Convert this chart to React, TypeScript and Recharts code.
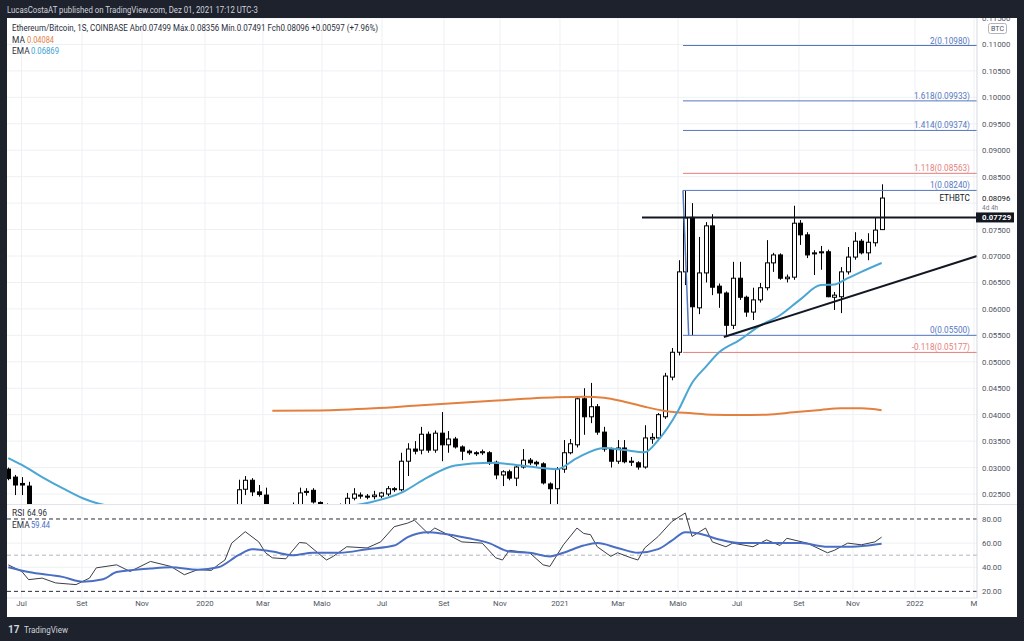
import React from 'react';
import {
  ComposedChart, Bar, Line, Scatter, XAxis, YAxis, CartesianGrid, ReferenceLine,
} from 'recharts';

// weekly ETH/BTC candles, week 0 = Jun 2019, week 129 = Nov 29 2021
const OPEN = [
  0.0297, 0.0282, 0.0270, 0.0265, 0.0218, 0.0205, 0.0195, 0.0185, 0.0184, 0.0180,
  0.0175, 0.0181, 0.0185, 0.0190, 0.0186, 0.0184, 0.0182, 0.0180, 0.0190, 0.0212,
  0.0215, 0.0210, 0.0202, 0.0198, 0.0195, 0.0190, 0.0188, 0.0183, 0.0185, 0.0182,
  0.0192, 0.0200, 0.0210, 0.0218, 0.0225, 0.0259, 0.0276, 0.0254, 0.0248, 0.0225,
  0.0210, 0.0180, 0.0195, 0.0228, 0.0253, 0.0257, 0.0234, 0.0228, 0.0225, 0.0228,
  0.0226, 0.0242, 0.0248, 0.0246, 0.0245, 0.0246, 0.0250, 0.0260, 0.0258, 0.0312,
  0.0335, 0.0333, 0.0363, 0.0333, 0.0365, 0.0343, 0.0354, 0.0339, 0.0331, 0.0328,
  0.0328, 0.0328, 0.0310, 0.0286, 0.0292, 0.0280, 0.0301, 0.0314, 0.0310, 0.0307,
  0.0269, 0.0260, 0.0297, 0.0328, 0.0343, 0.0430, 0.0396, 0.0415, 0.0367, 0.0335,
  0.0312, 0.0337, 0.0310, 0.0309, 0.0301, 0.0354, 0.0356, 0.0396, 0.0471, 0.0518,
  0.0670, 0.0773, 0.0602, 0.0668, 0.0757, 0.0643, 0.0630, 0.0569, 0.0658, 0.0622,
  0.0594, 0.0617, 0.0640, 0.0687, 0.0702, 0.0657, 0.0660, 0.0762, 0.0740, 0.0704,
  0.0706, 0.0708, 0.0622, 0.0623, 0.0670, 0.0698, 0.0728, 0.0706, 0.0725, 0.07499,
];
const HIGH = [
  0.0300, 0.0286, 0.0282, 0.0273, 0.0226, 0.0212, 0.0202, 0.0192, 0.0190, 0.0186,
  0.0185, 0.0190, 0.0195, 0.0198, 0.0192, 0.0190, 0.0188, 0.0194, 0.0215, 0.0225,
  0.0222, 0.0216, 0.0208, 0.0204, 0.0200, 0.0196, 0.0194, 0.0190, 0.0192, 0.0195,
  0.0205, 0.0215, 0.0222, 0.0228, 0.0277, 0.0284, 0.0280, 0.0267, 0.0262, 0.0230,
  0.0218, 0.0200, 0.0234, 0.0262, 0.0261, 0.0261, 0.0236, 0.0232, 0.0231, 0.0232,
  0.0252, 0.0261, 0.0253, 0.0250, 0.0256, 0.0254, 0.0265, 0.0263, 0.0328, 0.0346,
  0.0350, 0.0377, 0.0368, 0.0370, 0.0405, 0.0369, 0.0358, 0.0342, 0.0334, 0.0331,
  0.0334, 0.0331, 0.0313, 0.0295, 0.0296, 0.0303, 0.0335, 0.0318, 0.0313, 0.0310,
  0.0272, 0.0301, 0.0352, 0.0354, 0.0433, 0.0450, 0.0460, 0.0420, 0.0377, 0.0338,
  0.0352, 0.0352, 0.0320, 0.0312, 0.0380, 0.0365, 0.0403, 0.0479, 0.0526, 0.0692,
  0.0824, 0.0800, 0.0736, 0.0764, 0.0779, 0.0648, 0.0633, 0.0689, 0.0689, 0.0625,
  0.0640, 0.0649, 0.0730, 0.0706, 0.0705, 0.0665, 0.0795, 0.0768, 0.0745, 0.0711,
  0.0719, 0.0712, 0.0632, 0.0679, 0.0717, 0.0745, 0.0732, 0.0743, 0.0772, 0.08356,
];
const LOW = [
  0.0276, 0.0248, 0.0248, 0.0215, 0.0200, 0.0190, 0.0180, 0.0178, 0.0177, 0.0170,
  0.0172, 0.0178, 0.0180, 0.0183, 0.0180, 0.0178, 0.0176, 0.0178, 0.0188, 0.0205,
  0.0205, 0.0198, 0.0192, 0.0190, 0.0186, 0.0184, 0.0180, 0.0178, 0.0180, 0.0180,
  0.0188, 0.0196, 0.0205, 0.0212, 0.0220, 0.0248, 0.0246, 0.0245, 0.0215, 0.0200,
  0.0170, 0.0175, 0.0190, 0.0225, 0.0247, 0.0232, 0.0222, 0.0220, 0.0218, 0.0222,
  0.0222, 0.0238, 0.0241, 0.0240, 0.0240, 0.0242, 0.0246, 0.0254, 0.0255, 0.0284,
  0.0325, 0.0325, 0.0328, 0.0328, 0.0312, 0.0328, 0.0336, 0.0314, 0.0324, 0.0322,
  0.0324, 0.0305, 0.0278, 0.0265, 0.0276, 0.0265, 0.0298, 0.0305, 0.0302, 0.0268,
  0.0228, 0.0228, 0.0290, 0.0325, 0.0338, 0.0362, 0.0384, 0.0362, 0.0330, 0.0300,
  0.0307, 0.0308, 0.0303, 0.0296, 0.0298, 0.0345, 0.0350, 0.0392, 0.0465, 0.0512,
  0.0645, 0.0550, 0.0590, 0.0650, 0.0626, 0.0602, 0.0547, 0.0562, 0.0617, 0.0585,
  0.0579, 0.0612, 0.0635, 0.0670, 0.0655, 0.0650, 0.0655, 0.0721, 0.0696, 0.0664,
  0.0674, 0.0622, 0.0598, 0.0592, 0.0665, 0.0693, 0.0703, 0.0692, 0.0718, 0.07491,
];
const CLOSE = [
  0.0279, 0.0267, 0.0267, 0.0218, 0.0205, 0.0195, 0.0185, 0.0184, 0.0180, 0.0175,
  0.0181, 0.0185, 0.0190, 0.0186, 0.0184, 0.0182, 0.0180, 0.0190, 0.0212, 0.0215,
  0.0210, 0.0202, 0.0198, 0.0195, 0.0190, 0.0188, 0.0183, 0.0185, 0.0182, 0.0192,
  0.0200, 0.0210, 0.0218, 0.0225, 0.0258, 0.0276, 0.0254, 0.0249, 0.0225, 0.0210,
  0.0180, 0.0195, 0.0228, 0.0252, 0.0255, 0.0235, 0.0228, 0.0225, 0.0228, 0.0226,
  0.0242, 0.0250, 0.0246, 0.0244, 0.0248, 0.0252, 0.0260, 0.0259, 0.0312, 0.0335,
  0.0331, 0.0363, 0.0333, 0.0365, 0.0343, 0.0354, 0.0339, 0.0331, 0.0328, 0.0327,
  0.0330, 0.0309, 0.0286, 0.0292, 0.0280, 0.0301, 0.0314, 0.0309, 0.0307, 0.0271,
  0.0260, 0.0297, 0.0328, 0.0345, 0.0430, 0.0396, 0.0415, 0.0367, 0.0335, 0.0312,
  0.0337, 0.0311, 0.0312, 0.0301, 0.0356, 0.0357, 0.0400, 0.0473, 0.0518, 0.0670,
  0.0772, 0.0604, 0.0668, 0.0757, 0.0641, 0.0630, 0.0569, 0.0658, 0.0622, 0.0594,
  0.0617, 0.0640, 0.0687, 0.0702, 0.0658, 0.0660, 0.0762, 0.0740, 0.0702, 0.0706,
  0.0708, 0.0623, 0.0626, 0.0670, 0.0698, 0.0728, 0.0706, 0.0726, 0.0749, 0.08096,
];

const MA_WEEKS = [39, 46, 54, 61, 71, 81, 85, 88, 91, 94, 97, 101, 104, 108, 112, 116, 120, 123, 126, 129];
const MA_VALUES = [0.04075, 0.0408, 0.0412, 0.0418, 0.04258, 0.0433, 0.0434, 0.0432, 0.04245, 0.0415,
  0.0407, 0.04026, 0.0400, 0.03994, 0.0400, 0.04044, 0.0409, 0.0412, 0.0412, 0.04084];
const EMA_WEEKS = [0, 2, 5, 8, 11, 13, 18, 25, 32, 40, 47, 53, 58, 62, 66, 71, 75, 79, 81, 84, 88, 91, 94,
  96, 99, 101, 103, 105, 108, 111, 114, 117, 120, 122, 124, 126, 129];
const EMA_VALUES = [0.0318, 0.0305, 0.0282, 0.0261, 0.0242, 0.0233, 0.0222, 0.0212, 0.0208, 0.0212,
  0.0222, 0.0233, 0.0252, 0.0282, 0.0304, 0.0309, 0.0305, 0.0299, 0.0297, 0.0318, 0.0337, 0.0333,
  0.0329, 0.0352, 0.0409, 0.0460, 0.0490, 0.0518, 0.0541, 0.0568, 0.0588, 0.0618, 0.0645, 0.0646,
  0.0658, 0.0670, 0.06869];

// RSI pane
const RSI_WEEKS = [0, 2, 3, 5, 7, 10, 12, 13, 16, 18, 21, 24, 26, 28, 30, 31, 32, 33, 35, 37, 38, 39, 41,
  43, 44, 47, 48, 50, 53, 55, 57, 59, 60, 62, 63, 65, 67, 70, 72, 73, 74, 77, 79, 80, 82, 84, 85, 86,
  87, 89, 90, 92, 93, 94, 96, 98, 100, 101, 103, 104, 106, 107, 110, 112, 114, 115, 118, 121, 122,
  124, 126, 128, 129];
const RSI_VALUES = [42, 36.5, 29.7, 31, 27, 25.6, 31, 39.5, 42, 36.5, 44.8, 40.7, 33.8, 38, 37.4, 42, 46,
  60, 69.5, 61, 52, 47.8, 47, 60.5, 60, 46, 49, 57, 56, 61, 73.6, 76.6, 79, 68, 72.5, 66.8, 61, 60,
  47.8, 46, 54, 52, 42, 40.7, 58.6, 72.5, 68, 67, 57, 49, 52, 47.8, 46, 56, 65.5, 77.8, 85, 65.5,
  72.5, 61, 57, 60, 57, 62.7, 58, 64, 60, 52, 54, 60, 58.6, 61, 64.96];
const RSI_EMA_WEEKS = [0, 3, 8, 11, 14, 16, 21, 24, 28, 31, 34, 36, 39, 42, 45, 49, 53, 57, 59, 62, 64,
  68, 71, 74, 77, 80, 82, 85, 87, 90, 93, 96, 98, 100, 102, 105, 108, 112, 117, 121, 124, 127, 129];
const RSI_EMA_VALUES = [40, 36, 32, 28, 30, 36, 39, 40, 38, 40, 50, 55, 53, 50, 52, 52, 55, 58, 65, 69,
  68, 64, 60, 53, 52, 49, 52, 58, 60, 56, 52, 55, 62, 69, 68, 63, 60, 60, 60, 57, 57, 58, 59.44];

// time axis
const TICK_POS = [1.96, 10.89, 19.75, 29.05, 37.62, 46.34, 55.2, 64.36, 72.63, 81.49, 90.06, 98.92,
  107.64, 116.79, 124.77, 133.93, 142.64];
const TICK_LABELS = ['Jul', 'Set', 'Nov', '2020', 'Mar', 'Maio', 'Jul', 'Set', 'Nov', '2021', 'Mar',
  'Maio', 'Jul', 'Set', 'Nov', '2022', 'M'];

// price axis
const GRID_PRICES = [0.025, 0.03, 0.035, 0.04, 0.045, 0.05, 0.055, 0.06, 0.065, 0.07, 0.075, 0.08,
  0.085, 0.09, 0.095, 0.1, 0.105, 0.11, 0.115];
const LAST_PRICE = 0.08096;
const LEVEL_PRICE = 0.07729;
const AXIS_PRICES = [0.025, 0.03, 0.035, 0.04, 0.045, 0.05, 0.055, 0.06, 0.065, 0.07, 0.075,
  LEVEL_PRICE, LAST_PRICE, 0.085, 0.09, 0.095, 0.1, 0.105, 0.11, 0.115];
const RSI_TICKS = [20, 40, 60, 80];

// fib extension drawn from the May high to the May low
const FIB_RATIOS = ['2', '1.618', '1.414', '1.118', '1', '0', '-0.118'];
const FIB_LEVELS = [0.1098, 0.09933, 0.09374, 0.08563, 0.0824, 0.055, 0.05177];
const FIB_HIGH_WEEK = 99.66;
const FIB_LOW_WEEK = 100.5;
const LEVEL_START_WEEK = 93.6;
const TREND_START = { week: 105.7, price: 0.05469 };
const TREND_END_PRICE = 0.07;

const X_MIN = -0.19;
const X_MAX = 143.09;
const LABEL_WEEK = 142.05;

const FONT = 'Roboto, "Open Sans", sans-serif';
const BLUE = '#5577c0';
const RED = '#e57f7b';
const isRed = (r: string) => r === '1.118' || r === '-0.118';

const pick = (weeks: number[], vals: number[], i: number) => {
  const k = weeks.indexOf(i);
  return k < 0 ? null : vals[k];
};

const rows = OPEN.map((o, i) => ({
  i,
  o,
  h: HIGH[i],
  l: LOW[i],
  c: CLOSE[i],
  ma: pick(MA_WEEKS, MA_VALUES, i),
  ema: pick(EMA_WEEKS, EMA_VALUES, i),
  rsi: pick(RSI_WEEKS, RSI_VALUES, i),
  rsiEma: pick(RSI_EMA_WEEKS, RSI_EMA_VALUES, i),
}));

const labelRows = [
  ...FIB_RATIOS.map((r, k) => ({
    i: LABEL_WEEK,
    v: FIB_LEVELS[k],
    text: `${r}(${FIB_LEVELS[k].toFixed(5)})`,
    color: isRed(r) ? RED : BLUE,
    kind: 'fib',
  })),
  { i: LABEL_WEEK, v: LAST_PRICE, text: 'ETHBTC', color: '#131722', kind: 'sym' },
];

const candleRange = (d: any) => [d.l, d.h];

const Candle = (props: any) => {
  const { x, y, width, height, payload } = props;
  if (!payload || x == null) return null;
  const { o, h, l, c } = payload;
  const top = Math.min(y, y + height);
  const span = Math.abs(height);
  const toY = (v: number) => top + ((h - v) / (h - l)) * span;
  const cx = Math.round(x + width / 2) + 0.5;
  const bTop = toY(Math.max(o, c));
  const bBot = toY(Math.min(o, c));
  const up = c >= o;
  return (
    <g>
      <line x1={cx} x2={cx} y1={top} y2={top + span} stroke="#000" strokeWidth={1} />
      <rect x={cx - 2} y={bTop} width={4} height={Math.max(bBot - bTop, 1)}
        fill={up ? '#fff' : '#000'} stroke="#000" strokeWidth={1} />
    </g>
  );
};

const LevelLabel = (props: any) => {
  const { cx, cy, payload } = props;
  if (cx == null) return null;
  const dy = payload.kind === 'sym' ? 3 : -2;
  return (
    <text x={cx} y={cy + dy} textAnchor="end" fontSize={8.2} fontFamily={FONT} fill={payload.color}>
      {payload.text}
    </text>
  );
};

const PriceTick = (props: any) => {
  const { x, y, payload } = props;
  const v = payload.value;
  if (v === LEVEL_PRICE) {
    return (
      <g>
        <rect x={x - 6} y={y - 5} width={38} height={10} fill="#131722" />
        <text x={x} y={y + 3} fontSize={7.8} fontWeight="bold" fontFamily={FONT} fill="#fff">{v.toFixed(5)}</text>
      </g>
    );
  }
  if (v === LAST_PRICE) {
    return (
      <g>
        <text x={x} y={y + 3} fontSize={7.8} fontFamily={FONT} fill="#131722">{v.toFixed(5)}</text>
        <text x={x} y={y + 12} fontSize={6.5} fontFamily={FONT} fill="#787b86">4d 4h</text>
      </g>
    );
  }
  return <text x={x} y={y + 3} fontSize={7.8} fontFamily={FONT} fill="#50535e">{v.toFixed(5)}</text>;
};

const RsiTick = (props: any) => {
  const { x, y, payload } = props;
  return <text x={x} y={y + 3} fontSize={7.8} fontFamily={FONT} fill="#50535e">{payload.value.toFixed(2)}</text>;
};

const TimeTick = (props: any) => {
  const { x, y, index } = props;
  return (
    <text x={x} y={y + 6} textAnchor="middle" fontSize={7.8} fontFamily={FONT} fill="#50535e">
      {TICK_LABELS[index] ?? ''}
    </text>
  );
};

const PriceChart = () => (
  <ComposedChart width={1010} height={486} data={rows} margin={{ top: 0, right: 0, bottom: 0, left: 0 }}>
    <CartesianGrid stroke="#eef0f4" horizontalValues={GRID_PRICES} verticalValues={TICK_POS} />
    <XAxis type="number" dataKey="i" domain={[X_MIN, X_MAX]} allowDataOverflow hide />
    <YAxis orientation="right" width={40} domain={[0.02311, 0.115]} allowDataOverflow ticks={AXIS_PRICES}
      interval={0} tick={<PriceTick />} tickLine={false} tickSize={0} tickMargin={5}
      axisLine={{ stroke: '#d6d9e0' }} />
    {FIB_RATIOS.map((r, k) => (
      <ReferenceLine key={r} stroke={isRed(r) ? RED : BLUE} strokeWidth={1}
        segment={[{ x: FIB_HIGH_WEEK, y: FIB_LEVELS[k] }, { x: X_MAX, y: FIB_LEVELS[k] }]} />
    ))}
    <ReferenceLine stroke={BLUE} strokeWidth={1.5}
      segment={[{ x: FIB_HIGH_WEEK, y: FIB_LEVELS[4] }, { x: FIB_LOW_WEEK, y: FIB_LEVELS[5] }]} />
    <Line dataKey="ma" type="monotone" stroke="#e3803f" strokeWidth={2} dot={false} activeDot={false}
      connectNulls isAnimationActive={false} />
    <Line dataKey="ema" type="monotone" stroke="#4ba6d3" strokeWidth={2} dot={false} activeDot={false}
      connectNulls isAnimationActive={false} />
    <Bar dataKey={candleRange} shape={Candle} barSize={5} isAnimationActive={false} />
    <ReferenceLine stroke="#131722" strokeWidth={2}
      segment={[{ x: LEVEL_START_WEEK, y: LEVEL_PRICE }, { x: X_MAX, y: LEVEL_PRICE }]} />
    <ReferenceLine stroke="#131722" strokeWidth={2}
      segment={[{ x: TREND_START.week, y: TREND_START.price }, { x: X_MAX, y: TREND_END_PRICE }]} />
    <Scatter data={labelRows} dataKey="v" shape={LevelLabel} isAnimationActive={false} />
  </ComposedChart>
);

const RsiChart = () => (
  <ComposedChart width={1010} height={112} data={rows} margin={{ top: 0, right: 0, bottom: 0, left: 0 }}>
    <CartesianGrid stroke="#eef0f4" horizontalValues={[40, 60]} verticalValues={TICK_POS} />
    <XAxis type="number" dataKey="i" domain={[X_MIN, X_MAX]} allowDataOverflow ticks={TICK_POS} interval={0}
      tick={<TimeTick />} tickLine={false} tickSize={0} height={19} axisLine={{ stroke: '#e0e3eb' }} />
    <YAxis orientation="right" width={40} domain={[14.5, 91.6]} allowDataOverflow ticks={RSI_TICKS}
      interval={0} tick={<RsiTick />} tickLine={false} tickSize={0} tickMargin={5}
      axisLine={{ stroke: '#d6d9e0' }} />
    <ReferenceLine y={80} stroke="#2a2e39" strokeDasharray="4 3" />
    <ReferenceLine y={50} stroke="#b2b5be" strokeDasharray="4 3" />
    <ReferenceLine y={20} stroke="#2a2e39" strokeDasharray="4 3" />
    <Line dataKey="rsi" type="linear" stroke="#3b3e46" strokeWidth={1} dot={false} activeDot={false}
      connectNulls isAnimationActive={false} />
    <Line dataKey="rsiEma" type="monotone" stroke="#4a6ec4" strokeWidth={2} dot={false} activeDot={false}
      connectNulls isAnimationActive={false} />
  </ComposedChart>
);

export default function App() {
  return (
    <div style={{ position: 'fixed', left: 0, top: 0, width: 1024, height: 641, background: '#1e222d', overflow: 'hidden' }}>
      <div style={{ position: 'absolute', left: 7, top: 18, width: 1010, height: 599, background: '#fff' }}>
        <div style={{ position: 'absolute', left: 0, top: 0 }}>
          <PriceChart />
        </div>
        <div style={{ position: 'absolute', left: 0, top: 486, width: 1010, height: 1, background: '#e0e3eb' }} />
        <div style={{ position: 'absolute', left: 0, top: 487 }}>
          <RsiChart />
        </div>
      </div>
      <svg width={1024} height={641} style={{ position: 'absolute', left: 0, top: 0, pointerEvents: 'none' }}
        fontFamily={FONT}>
        <text x={7} y={13} fontSize={8.6} fill="#d1d4dc" textLength={251} lengthAdjust="spacingAndGlyphs">
          LucasCostaAT published on TradingView.com, Dez 01, 2021 17:12 UTC-3
        </text>
        <text x={12} y={31} fontSize={8.8} fill="#2a2e39" textLength={366} lengthAdjust="spacingAndGlyphs">
          Ethereum/Bitcoin, 1S, COINBASE  Abr0.07499  Máx.0.08356  Mín.0.07491  Fch0.08096  +0.00597 (+7.96%)
        </text>
        <text x={12} y={42.5} fontSize={8.4} fill="#2a2e39">MA</text>
        <text x={27} y={42.5} fontSize={8.4} fill="#e3803f" textLength={27} lengthAdjust="spacingAndGlyphs">0.04084</text>
        <text x={12} y={54} fontSize={8.4} fill="#2a2e39">EMA</text>
        <text x={31} y={54} fontSize={8.4} fill="#3a9fd0" textLength={28} lengthAdjust="spacingAndGlyphs">0.06869</text>
        <rect x={988.5} y={23.5} width={18} height={10} rx={2} fill="#fff" stroke="#b2b5be" />
        <text x={997.5} y={31} fontSize={7} fill="#50535e" textAnchor="middle">BTC</text>
        <text x={12} y={515.5} fontSize={8.4} fill="#2a2e39">RSI</text>
        <text x={27} y={515.5} fontSize={8.4} fill="#2a2e39" textLength={20} lengthAdjust="spacingAndGlyphs">64.96</text>
        <text x={12} y={527.5} fontSize={8.4} fill="#2a2e39">EMA</text>
        <text x={31} y={527.5} fontSize={8.4} fill="#4a6ec4" textLength={19} lengthAdjust="spacingAndGlyphs">59.44</text>
        <text x={8} y={633} fontSize={10} fontWeight="bold" fill="#d1d4dc">17</text>
        <text x={24} y={633} fontSize={8.6} fill="#d1d4dc" textLength={44} lengthAdjust="spacingAndGlyphs">TradingView</text>
      </svg>
    </div>
  );
}
